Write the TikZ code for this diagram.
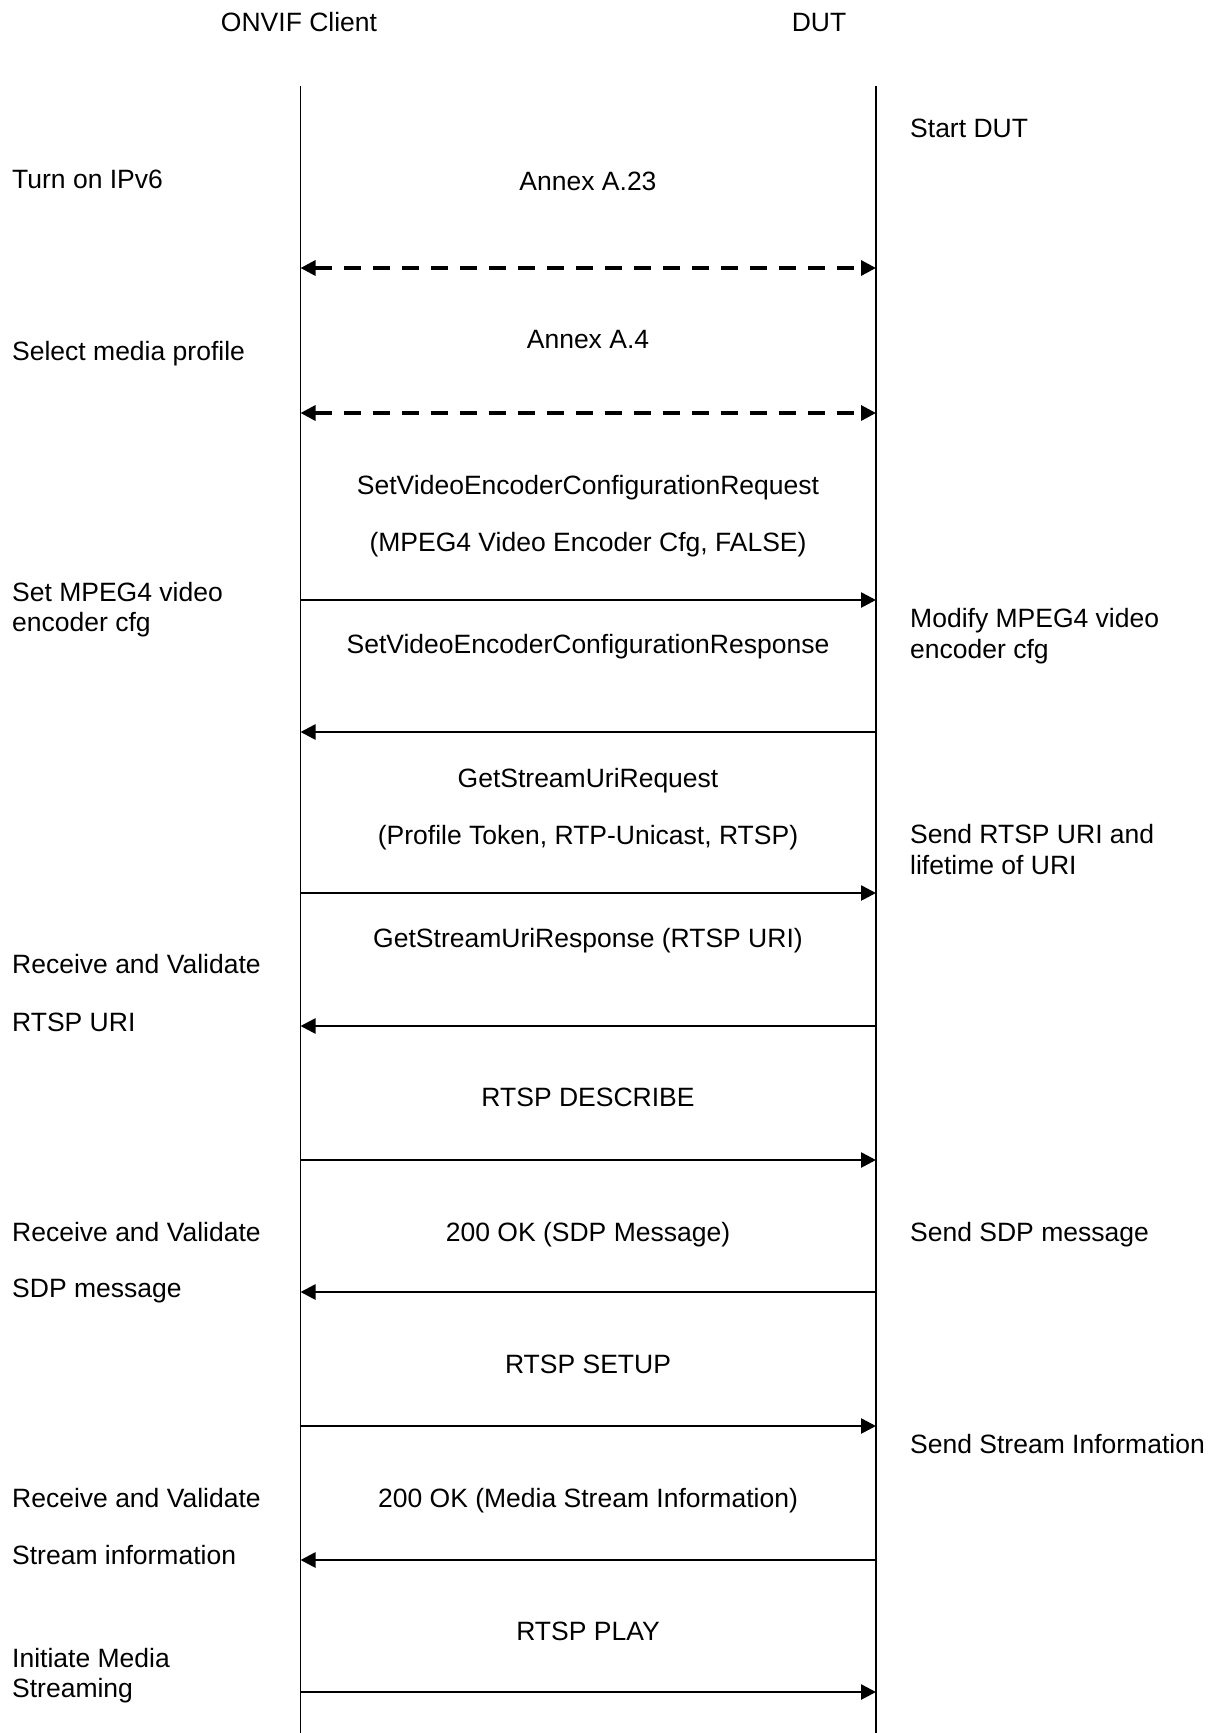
\documentclass[tikz,border=0pt]{standalone}
\usepackage{fontspec}
\setmainfont{Liberation Sans}
\usetikzlibrary{arrows.meta}

\begin{document}
\begin{tikzpicture}[x=1pt, y=-1pt,
  >={Triangle[length=15pt, width=15pt]},
  life/.style={line width=1.6pt},
  msg/.style={line width=2.6pt, ->},
  annex/.style={line width=3.2pt, <->, dash pattern=on 17pt off 12pt},
  lbl/.style={anchor=base, inner sep=0pt, font=\fontsize{26.5}{30.5}\selectfont},
  note/.style={anchor=base west, inner sep=0pt, font=\fontsize{26.5}{30.5}\selectfont},
  notes/.style={anchor=west, inner sep=0pt, align=left, font=\fontsize{26.5}{30.5}\selectfont}]

  \useasboundingbox (0,0) rectangle (1213,1733);

  % lebenslinien
  \node[lbl] (hC) at (299,31.5) {ONVIF Client};
  \node[lbl] (hD) at (819,31.5) {DUT};
  \coordinate (cTop) at (300.5,86);
  \coordinate (cBot) at (300.5,1733);
  \coordinate (dTop) at (876,86);
  \coordinate (dBot) at (876,1733);
  \draw[life] (cTop) -- (cBot);
  \draw[life] (dTop) -- (dBot);

  % punkte der nachrichten auf beiden linien
  \foreach \i/\y in {1/268, 2/413, 3/600, 4/732, 5/893, 6/1026,
                     7/1160, 8/1292, 9/1426, 10/1560, 11/1692}{
    \coordinate (c\i) at (300.5,\y);
    \coordinate (d\i) at (876,\y);
  }

  % IPv6 und profil
  \node[note] (tIp) at (12,188.5) {Turn on IPv6};
  \node[note] (tSt) at (910,137.5) {Start DUT};
  \node[lbl] (mA23) at (588,190.5) {Annex A.23};
  \draw[annex] (c1) -- (d1);
  \node[note] (tPr) at (12,360.5) {Select media profile};
  \node[lbl] (mA4) at (588,348.5) {Annex A.4};
  \draw[annex] (c2) -- (d2);

  % encoder konfiguration
  \node[lbl] (mSet) at (588,494.5) {SetVideoEncoderConfigurationRequest};
  \node[lbl] (mSetP) at (588,551.5) {(MPEG4 Video Encoder Cfg, FALSE)};
  \node[notes] (tSet) at (12,609.5) {Set MPEG4 video\\encoder cfg};
  \draw[msg] (c3) -- (d3);
  \node[lbl] (mSetR) at (588,653.5) {SetVideoEncoderConfigurationResponse};
  \node[notes] (tMod) at (910,636) {Modify MPEG4 video\\encoder cfg};
  \draw[msg] (d4) -- (c4);

  % stream uri
  \node[lbl] (mUri) at (588,787.5) {GetStreamUriRequest};
  \node[lbl] (mUriP) at (588,844.5) {(Profile Token, RTP-Unicast, RTSP)};
  \node[notes] (tUri) at (910,849.5) {Send RTSP URI and\\lifetime of URI};
  \draw[msg] (c5) -- (d5);
  \node[lbl] (mUriR) at (588,947.5) {GetStreamUriResponse (RTSP URI)};
  \node[note] (tRv1) at (12,973.5) {Receive and Validate};
  \node[note] (tRv1b) at (12,1031.5) {RTSP URI};
  \draw[msg] (d6) -- (c6);

  % describe
  \node[lbl] (mDes) at (588,1106.5) {RTSP DESCRIBE};
  \draw[msg] (c7) -- (d7);
  \node[lbl] (mDesR) at (588,1241.5) {200 OK (SDP Message)};
  \node[note] (tRv2) at (12,1241.5) {Receive and Validate};
  \node[note] (tRv2b) at (12,1297.5) {SDP message};
  \node[note] (tSdp) at (910,1241.5) {Send SDP message};
  \draw[msg] (d8) -- (c8);

  % setup
  \node[lbl] (mSu) at (588,1373.5) {RTSP SETUP};
  \draw[msg] (c9) -- (d9);
  \node[note] (tSi) at (910,1453.5) {Send Stream Information};
  \node[lbl] (mSuR) at (588,1507.5) {200 OK (Media Stream Information)};
  \node[note] (tRv3) at (12,1507.5) {Receive and Validate};
  \node[note] (tRv3b) at (12,1564.5) {Stream information};
  \draw[msg] (d10) -- (c10);

  % play
  \node[lbl] (mPl) at (588,1640.5) {RTSP PLAY};
  \node[notes] (tPl) at (12,1675.5) {Initiate Media\\Streaming};
  \draw[msg] (c11) -- (d11);
\end{tikzpicture}
\end{document}
